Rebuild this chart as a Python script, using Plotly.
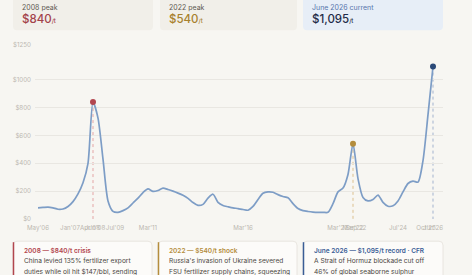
import plotly.graph_objects as go

# ---------------- data ----------------
values = [80, 83, 86, 80, 70, 72, 90, 125, 180, 260,
          400, 840, 725, 430, 130, 55, 48, 60, 80, 115,
          150, 190, 216, 198, 205, 222, 212, 200, 186, 170,
          148, 118, 98, 105, 150, 178, 120, 97, 88, 80,
          75, 68, 63, 90, 140, 185, 195, 192, 175, 162,
          152, 110, 75, 60, 54, 50, 48, 48, 48, 110,
          195, 222, 320, 540, 290, 155, 130, 140, 172, 120,
          92, 95, 130, 195, 255, 272, 265, 420, 750, 1095]
idx = list(range(len(values)))

tick_pos = [0, 6.4, 10.4, 11.4, 15.4, 22, 41, 59.8, 63.0, 63.6, 72, 77.6, 79]
tick_labels = ["May'06", "Jan'07", "Apr'08", "Jun'08", "Jul'09", "Mar'11", "Mar'16",
               "Mar'21", "Mar'22", "Sep'22", "Jul'24", "Oct'25", "Jun'26"]

y_ticks = [0, 200, 400, 600, 800, 1000, 1250]
y_tick_labels = ["$0", "$200", "$400", "$600", "$800", "$1000", "$1250"]

peak_idx = [11, 63, 79]
peak_colors = ["#b2464f", "#b48d3c", "#2b4a78"]
peak_dash = ["#e3a5a5", "#dcc08f", "#a3b3cf"]

stat_labels = ["2008 peak", "2022 peak", "June 2026 current"]
stat_values = ["$840", "$540", "$1,095"]
stat_colors = ["#a3424a", "#a8812e", "#1f2c48"]

note_titles = ["2008 — $840/t crisis", "2022 — $540/t shock", "June 2026 — $1,095/t record · CFR"]
note_lines = [["China levied 135% fertilizer export", "duties while oil hit $147/bbl, sending"],
              ["Russia's invasion of Ukraine severed", "FSU fertilizer supply chains, squeezing"],
              ["A Strait of Hormuz blockade cut off", "46% of global seaborne sulphur"]]
note_colors = ["#b2464f", "#b48d3c", "#3a5d96"]

# ---------------- layout geometry ----------------
W, H = 472, 275
ML, MR, MT, MB = 35, 29, 45.3, 55.7
PW, PH = W - ML - MR, H - MT - MB
BG = "#f7f6f2"
FONT = "Inter"


def px(x):
    return (x - ML) / PW


def py(y):
    return (H - MB - y) / PH


def rrect(x0, y0, x1, y1, r):
    pts = []
    pts.append(f"M {px(x0 + r)} {py(y0)}")
    pts.append(f"L {px(x1 - r)} {py(y0)}")
    pts.append(f"Q {px(x1)} {py(y0)} {px(x1)} {py(y0 + r)}")
    pts.append(f"L {px(x1)} {py(y1 - r)}")
    pts.append(f"Q {px(x1)} {py(y1)} {px(x1 - r)} {py(y1)}")
    pts.append(f"L {px(x0 + r)} {py(y1)}")
    pts.append(f"Q {px(x0)} {py(y1)} {px(x0)} {py(y1 - r)}")
    pts.append(f"L {px(x0)} {py(y0 + r)}")
    pts.append(f"Q {px(x0)} {py(y0)} {px(x0 + r)} {py(y0)}")
    return " ".join(pts) + " Z"


fig = go.Figure()

fig.add_trace(go.Scatter(
    x=idx, y=values, mode="lines",
    line=dict(color="#7d9dc6", width=1.7, shape="spline", smoothing=0.7),
    hoverinfo="skip", showlegend=False, cliponaxis=False,
))

fig.add_trace(go.Scatter(
    x=peak_idx, y=[values[i] for i in peak_idx], mode="markers",
    marker=dict(color=peak_colors, size=6, line=dict(width=0)),
    showlegend=False, hoverinfo="skip", cliponaxis=False,
))

shapes = []
for i, c in zip(peak_idx, peak_dash):
    shapes.append(dict(type="line", xref="x", yref="y", x0=i, x1=i,
                       y0=values[i], y1=-60, line=dict(color=c, width=1, dash="dot"),
                       layer="below"))

top_cards = [(13, 153, "#f1efe9"), (160, 297, "#f1efe9"), (303, 443, "#e7eef7")]
for x0, x1, fill in top_cards:
    shapes.append(dict(type="path", xref="paper", yref="paper",
                       path=rrect(x0, -10, x1, 30.5, 4), fillcolor=fill,
                       line=dict(width=0), layer="below"))

bottom_cards = [(13, 152), (158, 297), (303, 443)]
for (x0, x1), c in zip(bottom_cards, note_colors):
    shapes.append(dict(type="path", xref="paper", yref="paper",
                       path=rrect(x0, 241.5, x1, 290, 4), fillcolor="#fcfbf9",
                       line=dict(color="#e4e1da", width=0.8), layer="below"))
    shapes.append(dict(type="line", xref="paper", yref="paper",
                       x0=px(x0 + 0.5), x1=px(x0 + 0.5), y0=py(242.5), y1=py(290),
                       line=dict(color=c, width=1.5)))

annotations = []
stat_label_colors = ["#5f5a52", "#5f5a52", "#5876ad"]
for (x0, x1, _), lab, val, col, lc in zip(top_cards, stat_labels, stat_values, stat_colors, stat_label_colors):
    annotations.append(dict(xref="paper", yref="paper", x=px(x0 + 7), y=py(8),
                            text=lab, showarrow=False, xanchor="left", yanchor="middle",
                            font=dict(family=FONT, size=7, color=lc)))
    annotations.append(dict(xref="paper", yref="paper", x=px(x0 + 7), y=py(19.5),
                            text=f"{val}<span style='font-size:6px'>/t</span>",
                            showarrow=False, xanchor="left", yanchor="middle",
                            font=dict(family=FONT, size=11.5, color=col, weight=500)))

for (x0, x1), t, lines, c in zip(bottom_cards, note_titles, note_lines, note_colors):
    annotations.append(dict(xref="paper", yref="paper", x=px(x0 + 9), y=py(251.5),
                            text=t, showarrow=False, xanchor="left", yanchor="middle",
                            font=dict(family=FONT, size=6.5, color=c, weight=600)))
    for k, ln in enumerate(lines):
        annotations.append(dict(xref="paper", yref="paper", x=px(x0 + 9), y=py(261.7 + 10.6 * k),
                                text=ln, showarrow=False, xanchor="left", yanchor="middle",
                                font=dict(family=FONT, size=6.6, color="#4a463f")))

fig.update_layout(
    width=W, height=H,
    margin=dict(l=ML, r=MR, t=MT, b=MB, pad=0),
    paper_bgcolor=BG, plot_bgcolor=BG,
    shapes=shapes, annotations=annotations,
    xaxis=dict(range=[-0.6, 81], tickmode="array", tickvals=tick_pos, ticktext=tick_labels,
               showgrid=False, zeroline=False, showline=False, ticks="",
               tickfont=dict(family=FONT, size=6.2, color="#bcb8b1"), tickangle=0,
               ticklabelstandoff=4, fixedrange=True),
    yaxis=dict(range=[0, 1250], tickmode="array", tickvals=y_ticks, ticktext=y_tick_labels,
               showgrid=True, gridcolor="#e9e7e2", gridwidth=1, zeroline=False,
               showline=False, ticks="", tickfont=dict(family=FONT, size=6.2, color="#bcb8b1"),
               ticklabelstandoff=3, fixedrange=True),
    showlegend=False,
)

fig.write_html("out.html", config={"displayModeBar": False})
